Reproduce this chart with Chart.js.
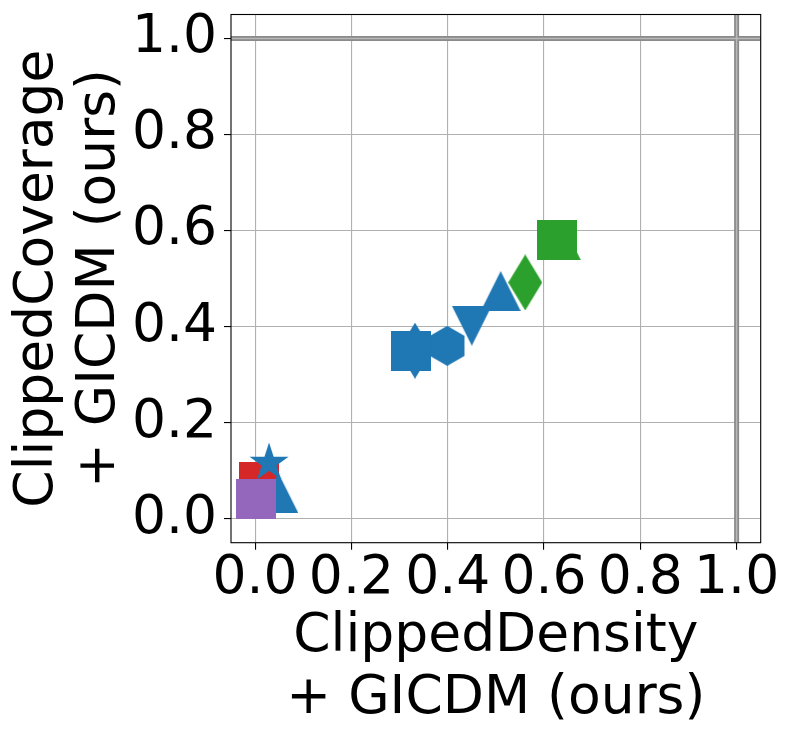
<!DOCTYPE html>
<html><head><meta charset="utf-8">
<script src="https://cdn.jsdelivr.net/npm/chart.js@4.4.1/dist/chart.umd.min.js"></script>
<style>html,body{margin:0;padding:0;background:#fff;overflow:hidden}</style>
</head><body>
<canvas id="c" width="793" height="742"></canvas>
<script>
// ---- data ----
const xTickValues = [0.0, 0.2, 0.4, 0.6, 0.8, 1.0];
const yTickValues = [0.0, 0.2, 0.4, 0.6, 0.8, 1.0];
const xLimits = [-0.05, 1.05];
const yLimits = [-0.05, 1.05];
const referenceValue = 1.0;

const redX = [0.008];
const redY = [0.077];
const redMarkers = ['square'];

const blueX = [0.029, 0.048, 0.332, 0.323, 0.399, 0.450, 0.510];
const blueY = [0.116, 0.054, 0.350, 0.349, 0.360, 0.402, 0.474];
const blueMarkers = ['star', 'triangleUp', 'thinDiamond', 'square', 'hexagon', 'triangleDown', 'triangleUp'];

const greenX = [0.635, 0.561, 0.628];
const greenY = [0.580, 0.492, 0.581];
const greenMarkers = ['triangleUp', 'thinDiamond', 'square'];

const purpleX = [0.0025];
const purpleY = [0.041];
const purpleMarkers = ['square'];

const xTitle = ['ClippedDensity', '+ GICDM (ours)'];
const yTitle = ['ClippedCoverage', '+ GICDM (ours)'];

// ---- styling ----
const COLORS = {red: '#d62728', blue: '#1f77b4', green: '#2ca02c', purple: '#9467bd'};
const FONT = 'DejaVu Sans';
const FS = 53.5;

const markerCache = {};
function marker(shape, color) {
  const key = shape + color;
  if (markerCache[key]) return markerCache[key];
  const c = document.createElement('canvas');
  let w, h, pts = [];
  if (shape === 'square') { w = 40; h = 40; pts = [[0,0],[40,0],[40,40],[0,40]]; }
  else if (shape === 'triangleUp') { w = 40; h = 40; pts = [[20,0],[40,40],[0,40]]; }
  else if (shape === 'triangleDown') { w = 40; h = 40; pts = [[0,0],[40,0],[20,40]]; }
  else if (shape === 'thinDiamond') { w = 34; h = 56; pts = [[17,0],[34,28],[17,56],[0,28]]; }
  else if (shape === 'hexagon') {
    w = 36; h = 40;
    for (let k = 0; k < 6; k++) { const a = (-90 + 60 * k) * Math.PI / 180; pts.push([18 + 20 * Math.cos(a), 20 + 20 * Math.sin(a)]); }
  } else if (shape === 'star') {
    w = 42; h = 42; const R = 20.5, r = R * 0.381966;
    for (let k = 0; k < 10; k++) { const a = (-90 + 36 * k) * Math.PI / 180; const rr = k % 2 ? r : R; pts.push([21 + rr * Math.cos(a), 21 + rr * Math.sin(a)]); }
  }
  c.width = w; c.height = h;
  const g = c.getContext('2d');
  g.fillStyle = color;
  g.beginPath();
  pts.forEach((p, i) => i ? g.lineTo(p[0], p[1]) : g.moveTo(p[0], p[1]));
  g.closePath();
  g.fill();
  markerCache[key] = c;
  return c;
}

function pointsOf(xs, ys) { return xs.map((x, i) => ({x: x, y: ys[i]})); }

function scatterSet(xs, ys, shapes, color, order) {
  return {
    type: 'scatter',
    data: pointsOf(xs, ys),
    pointStyle: shapes.map(s => marker(s, color)),
    pointRadius: 20,
    pointHoverRadius: 20,
    backgroundColor: color,
    borderColor: color,
    order: order,
    clip: false
  };
}

function refLine(points, color, width, order) {
  return {
    type: 'line',
    data: points,
    borderColor: color,
    borderWidth: width,
    pointRadius: 0,
    fill: false,
    showLine: true,
    order: order,
    borderCapStyle: 'butt'
  };
}

const hPts = xLimits.map(x => ({x: x, y: referenceValue}));
const vPts = yLimits.map(y => ({x: referenceValue, y: y}));

const frame = {
  id: 'frame',
  afterDraw(chart) {
    const {ctx, chartArea: a} = chart;
    ctx.save();
    ctx.strokeStyle = '#000';
    ctx.lineWidth = 1.1;
    ctx.strokeRect(a.left, a.top, a.right - a.left, a.bottom - a.top);
    ctx.restore();
  }
};

const tickFont = {family: FONT, size: FS, lineHeight: 1};
const titleFont = {family: FONT, size: FS, lineHeight: 1.16};

function noPad(s) { s.paddingTop = 0; s.paddingBottom = 0; s.paddingLeft = 0; s.paddingRight = 0; }

new Chart(document.getElementById('c'), {
  type: 'scatter',
  data: {
    datasets: [
      refLine(hPts, '#8a8a8a', 5, 20),
      refLine(vPts, '#8a8a8a', 5, 20),
      refLine(hPts, '#b8b8b8', 1.5, 19),
      refLine(vPts, '#b8b8b8', 1.5, 19),
      scatterSet(redX, redY, redMarkers, COLORS.red, 8),
      scatterSet(blueX, blueY, blueMarkers, COLORS.blue, 7),
      scatterSet(greenX, greenY, greenMarkers, COLORS.green, 6),
      scatterSet(purpleX, purpleY, purpleMarkers, COLORS.purple, 5)
    ]
  },
  options: {
    responsive: false,
    animation: false,
    devicePixelRatio: 1,
    layout: {autoPadding: false, padding: {top: 14.5, right: 32.3, left: 0, bottom: 0}},
    plugins: {legend: {display: false}, tooltip: {enabled: false}},
    events: [],
    scales: {
      x: {
        type: 'linear', position: 'bottom',
        min: xLimits[0], max: xLimits[1],
        afterBuildTicks(s) { s.ticks = xTickValues.map(v => ({value: v})); },
        afterFit(s) { s.height = 199.3; noPad(s); },
        ticks: {font: tickFont, color: '#000', padding: 3, maxRotation: 0, minRotation: 0, autoSkip: false,
                callback: v => Number(v).toFixed(1)},
        grid: {color: '#b0b0b0', lineWidth: 1.1, tickColor: '#000', tickLength: 7, tickWidth: 1.1},
        border: {display: false},
        title: {display: true, text: xTitle, font: titleFont, color: '#000', padding: {top: 0, bottom: 11.4}}
      },
      y: {
        type: 'linear', position: 'left',
        min: yLimits[0], max: yLimits[1],
        afterBuildTicks(s) { s.ticks = yTickValues.map(v => ({value: v})); },
        afterFit(s) { s.width = 231; noPad(s); },
        ticks: {font: tickFont, color: '#000', padding: 7, autoSkip: false,
                callback: v => Number(v).toFixed(1)},
        grid: {color: '#b0b0b0', lineWidth: 1.1, tickColor: '#000', tickLength: 7, tickWidth: 1.1},
        border: {display: false},
        title: {display: true, text: yTitle, font: titleFont, color: '#000', padding: {top: 7.5, bottom: 0}}
      }
    }
  },
  plugins: [frame]
});
</script>
</body></html>
